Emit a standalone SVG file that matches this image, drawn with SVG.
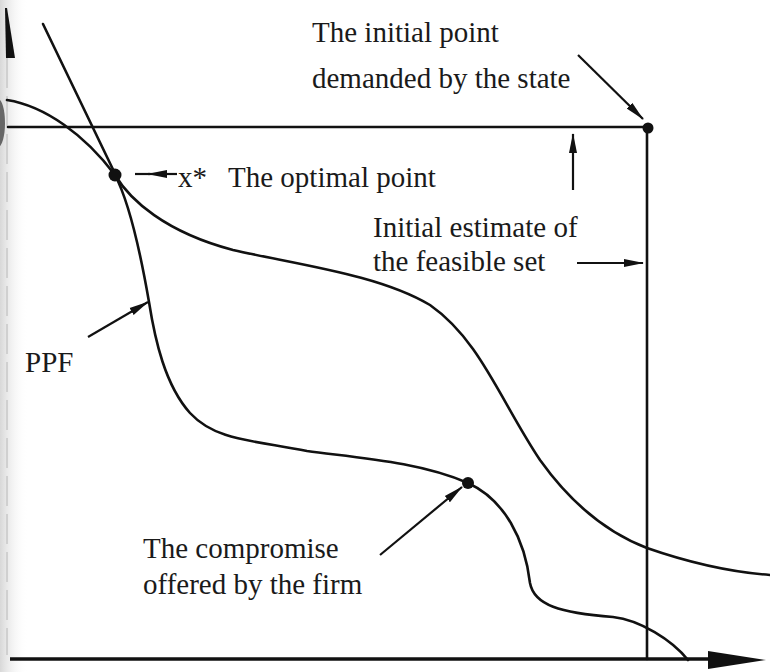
<svg xmlns="http://www.w3.org/2000/svg" width="770" height="672" viewBox="0 0 770 672">
<defs>
<style>
.ln{fill:none;stroke:#111;stroke-width:2.6;stroke-linecap:round;stroke-linejoin:round}
.ar{fill:none;stroke:#111;stroke-width:2.2;marker-end:url(#ah)}
.tx{font-family:"Liberation Serif","Times New Roman",serif;font-size:29px;fill:#1a1a1a}
.dot{fill:#111}
</style>
<marker id="ah" viewBox="0 0 20 10" refX="19" refY="5" markerWidth="20" markerHeight="10" markerUnits="userSpaceOnUse" orient="auto"><path d="M0,1 L20,5 L0,9 z" fill="#111"/></marker>
<linearGradient id="edge" x1="0" y1="0" x2="1" y2="0"><stop offset="0" stop-color="#d8d8d8"/><stop offset="1" stop-color="#fff" stop-opacity="0"/></linearGradient>
</defs>
<rect width="770" height="672" fill="#fff"/>
<rect x="0" y="0" width="28" height="672" fill="url(#edge)"/>
<g id="axes">
<line x1="7" y1="58" x2="7" y2="655" stroke="#c8c8c8" stroke-width="1.5" stroke-dasharray="30 8"/>
<polygon points="5,8 7,8 15,58 6,58" fill="#111"/>
<ellipse cx="-2" cy="123" rx="7" ry="24" fill="#666"/>
<line x1="10" y1="659" x2="712" y2="659" stroke="#111" stroke-width="3.5"/>
<polygon points="708,651 766,660 708,669" fill="#111"/>
</g>
<g id="connectors">
<line class="ln" x1="8" y1="127" x2="648" y2="127"/>
<line class="ln" x1="647" y1="127" x2="647" y2="659" stroke-width="2.2"/>
<line class="ln" x1="43" y1="24" x2="120" y2="184"/>
<path id="ppf" class="ln" d="M7,100 C45,106 85,135 115,175 C128,200 140,250 149,302 C155,340 165,385 190,413 C215,440 250,440 307,451 C360,458 420,462 468,483 C505,500 525,540 530,583 C534,605 560,613 613,617 C640,620 672,640 688,660"/>
<path id="curveB" class="ln" d="M115,175 C130,200 165,232 233,250 C300,265 380,275 430,305 C480,340 500,400 540,460 C565,495 600,530 647,548 C690,563 730,572 770,575"/>
<path class="ar" d="M578,55 L643,119"/>
<path class="ar" d="M573,190 L573,134"/>
<path class="ar" d="M577,263 L643,263"/>
<path class="ar" d="M88,337 L148,302"/>
<path class="ar" d="M380,555 L462,487"/>
<path class="ar" d="M177,174 L148,174"/>
<line x1="150" y1="174" x2="135" y2="174" stroke="#111" stroke-width="2.2"/>
</g>
<g id="initial-point">
<circle class="dot" cx="648" cy="128" r="5.5"/>
<text class="tx" x="312" y="42">The initial point</text>
<text class="tx" x="312" y="88">demanded by the state</text>
</g>
<g id="optimal-point">
<circle class="dot" cx="115" cy="175" r="6.5"/>
<text class="tx" x="178" y="187">x*</text>
<text class="tx" x="228" y="187">The optimal point</text>
</g>
<g id="feasible-set">
<text class="tx" x="373" y="237">Initial estimate of</text>
<text class="tx" x="373" y="271">the feasible set</text>
</g>
<g id="ppf-label">
<text class="tx" x="25" y="372">PPF</text>
</g>
<g id="compromise">
<circle class="dot" cx="468" cy="483" r="6"/>
<text class="tx" x="143" y="558">The compromise</text>
<text class="tx" x="143" y="594">offered by the firm</text>
</g>
</svg>
